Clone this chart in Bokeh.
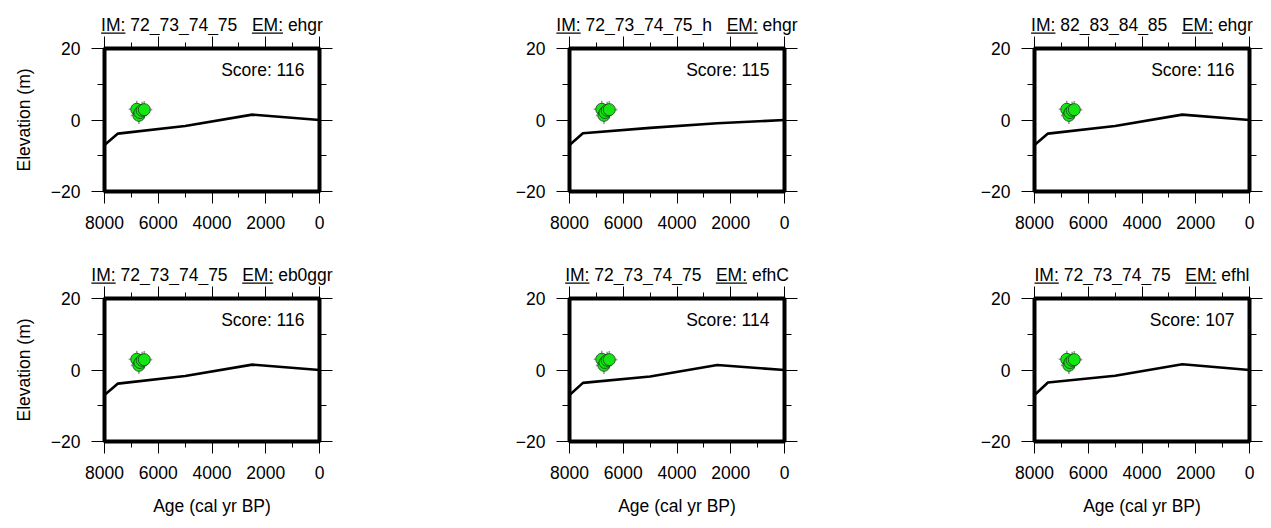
from bokeh.plotting import figure
from bokeh.models import (Range1d, LinearAxis, FixedTicker, CustomJSTickFormatter, Label)
from bokeh.core.properties import value
from bokeh.layouts import row, column
from bokeh.embed import file_html
from bokeh.resources import INLINE

FONT = "Liberation Sans"
FS = 17.5
TXT_SHIFT = 6  # correction so that the drawn baseline sits where intended

# ---------------- data ----------------
im_labels = ["72_73_74_75", "72_73_74_75_h", "82_83_84_85",
             "72_73_74_75", "72_73_74_75", "72_73_74_75"]
em_labels = ["ehgr", "ehgr", "ehgr", "eb0ggr", "efhC", "efhl"]
scores = [116, 115, 116, 116, 114, 107]

curve_age = [8000, 7500, 5000, 2500, 0]
curve_elev_1 = [-7.0, -3.8, -1.7, 1.5, 0.0]
curve_elev_2 = [-7.0, -3.7, -2.2, -0.9, 0.0]
curve_elev_3 = [-7.0, -3.8, -1.7, 1.5, 0.0]
curve_elev_4 = [-7.0, -3.8, -1.7, 1.5, 0.0]
curve_elev_5 = [-7.0, -3.6, -1.8, 1.4, 0.0]
curve_elev_6 = [-7.0, -3.5, -1.6, 1.6, 0.0]
curves = [curve_elev_1, curve_elev_2, curve_elev_3,
          curve_elev_4, curve_elev_5, curve_elev_6]

obs_age = [6800, 6720, 6680, 6600, 6520]
obs_elev = [3.0, 1.3, 2.1, 2.7, 2.9]
obs_age_err = [300, 300, 300, 300, 300]
obs_elev_err = [2.4, 2.4, 2.4, 2.4, 2.4]

x_major = [0, 2000, 4000, 6000, 8000]
x_minor = [1000, 3000, 5000, 7000]
y_major = [-20, 0, 20]
y_minor = [-10, 10]

# Arial / Liberation Sans advance widths (per 1000 em)
CW = {"I": 278, "M": 833, "E": 667, ":": 278, " ": 278, "_": 556,
      "e": 556, "h": 556, "g": 556, "r": 333, "b": 556, "f": 278,
      "C": 722, "l": 222}


def tw(s):
    return sum(CW.get(ch, 556) for ch in s) * FS / 1000.0


FW, FH = 215, 143
LEFT_B = [104, 100, 96]
RIGHT_B = [150, 154, 15]
COL_W = [LEFT_B[k] + FW + RIGHT_B[k] for k in range(3)]
COL_X = [0, COL_W[0], COL_W[0] + COL_W[1]]
TOTAL_W = sum(COL_W)
TITLE_H = [35, 27]
TOP_B = 13
BOTTOM_B = [67, 84]


def style_axis(ax, major, minor, tout, mout, labels, standoff=12):
    ax.ticker = FixedTicker(ticks=major, minor_ticks=minor)
    ax.major_tick_out = tout
    ax.major_tick_in = 0
    ax.minor_tick_out = mout
    ax.minor_tick_in = 0
    ax.major_tick_line_color = "black"
    ax.minor_tick_line_color = "black"
    ax.axis_line_color = "black"
    ax.major_label_text_font = FONT
    ax.major_label_text_color = "black"
    ax.major_label_standoff = standoff
    ax.axis_label_text_font = FONT
    ax.axis_label_text_font_size = f"{FS}px"
    ax.axis_label_text_font_style = "normal"
    ax.axis_label_text_color = "black"
    if labels:
        ax.formatter = CustomJSTickFormatter(
            code="return tick < 0 ? '\u2212' + (-tick) : '' + tick;")
        ax.major_label_text_font_size = f"{FS}px"
    else:
        ax.formatter = CustomJSTickFormatter(code="return '';")
        ax.major_label_text_font_size = "0px"
        ax.major_label_standoff = 0


def make_title_row(r):
    H = TITLE_H[r]
    t = figure(title=None, x_range=Range1d(0, TOTAL_W), y_range=Range1d(0, H),
               frame_width=TOTAL_W, frame_height=H, min_border=0,
               toolbar_location=None, output_backend="svg",
               x_axis_location=None, y_axis_location=None,
               background_fill_color="white", border_fill_color="white")
    t.xgrid.visible = False
    t.ygrid.visible = False
    t.outline_line_color = None
    xs, ts, ul_l, ul_r = [], [], [], []
    base = 5.0
    for c in range(3):
        i = r * 3 + c
        pieces = ["IM:", " ", im_labels[i], "   ", "EM:", " ", em_labels[i]]
        total = sum(tw(s) for s in pieces)
        xpos = COL_X[c] + LEFT_B[c] + FW / 2.0 - total / 2.0
        for s in pieces:
            w = tw(s)
            if s.strip():
                xs.append(xpos)
                ts.append(s)
                if s.endswith(":"):
                    ul_l.append(xpos)
                    ul_r.append(xpos + w)
            xpos += w
    t.text(x=xs, y=[base + TXT_SHIFT] * len(xs), text=ts, text_align="left",
           text_baseline="alphabetic", text_font=value(FONT),
           text_font_size=value(f"{FS}px"), text_color="black")
    t.quad(left=ul_l, right=ul_r, bottom=[base - 3.2] * len(ul_l),
           top=[base - 2.1] * len(ul_l), fill_color="black", line_color=None)
    return t


def make_panel(i, r, c):
    p = figure(x_range=Range1d(8000, 0), y_range=Range1d(-20, 20),
               frame_width=FW, frame_height=FH,
               min_border_left=LEFT_B[c], min_border_right=RIGHT_B[c],
               min_border_top=TOP_B, min_border_bottom=BOTTOM_B[r],
               toolbar_location=None, output_backend="svg",
               background_fill_color="white", border_fill_color="white")
    p.xgrid.visible = False
    p.ygrid.visible = False
    p.outline_line_color = "black"
    p.outline_line_width = 4
    p.outline_line_alpha = 1

    style_axis(p.xaxis[0], x_major, x_minor, 12, 6, True, standoff=12)
    style_axis(p.yaxis[0], y_major, y_minor, 13, 7, True, standoff=11)
    if c == 0:
        p.yaxis[0].axis_label = "Elevation (m)"
        p.yaxis[0].axis_label_standoff = 14
    if r == 1:
        p.xaxis[0].axis_label = "Age (cal yr BP)"
        p.xaxis[0].axis_label_standoff = 14

    top_ax = LinearAxis()
    style_axis(top_ax, x_major, x_minor, 12, 6, False)
    p.add_layout(top_ax, "above")
    right_ax = LinearAxis()
    style_axis(right_ax, y_major, y_minor, 13, 7, False)
    p.add_layout(right_ax, "right")

    # model curve
    p.line(curve_age, curves[i], line_color="black", line_width=2.6)

    # observations with error bars
    x0 = [a - e for a, e in zip(obs_age, obs_age_err)]
    x1 = [a + e for a, e in zip(obs_age, obs_age_err)]
    y0 = [v - e for v, e in zip(obs_elev, obs_elev_err)]
    y1 = [v + e for v, e in zip(obs_elev, obs_elev_err)]
    p.segment(x0=x0, y0=obs_elev, x1=x1, y1=obs_elev,
              line_color="#9a9a9a", line_width=1.6)
    p.segment(x0=obs_age, y0=y0, x1=obs_age, y1=y1,
              line_color="#9a9a9a", line_width=1.6)
    p.scatter(obs_age, obs_elev, marker="circle", size=12,
              fill_color="#14e614", line_color="#1a3a1a", line_width=0.8)

    # score
    p.add_layout(Label(x=FW - 15, y=FH - 27 + TXT_SHIFT,
                       x_units="screen", y_units="screen",
                       text=f"Score: {scores[i]}", text_align="right",
                       text_baseline="alphabetic", text_font=FONT,
                       text_font_size=f"{FS}px", text_color="black"))
    return p


children = []
for r in range(2):
    children.append(make_title_row(r))
    children.append(row(*[make_panel(r * 3 + c, r, c) for c in range(3)]))
layout = column(*children)

open("out.html", "w").write(file_html(layout, INLINE))
